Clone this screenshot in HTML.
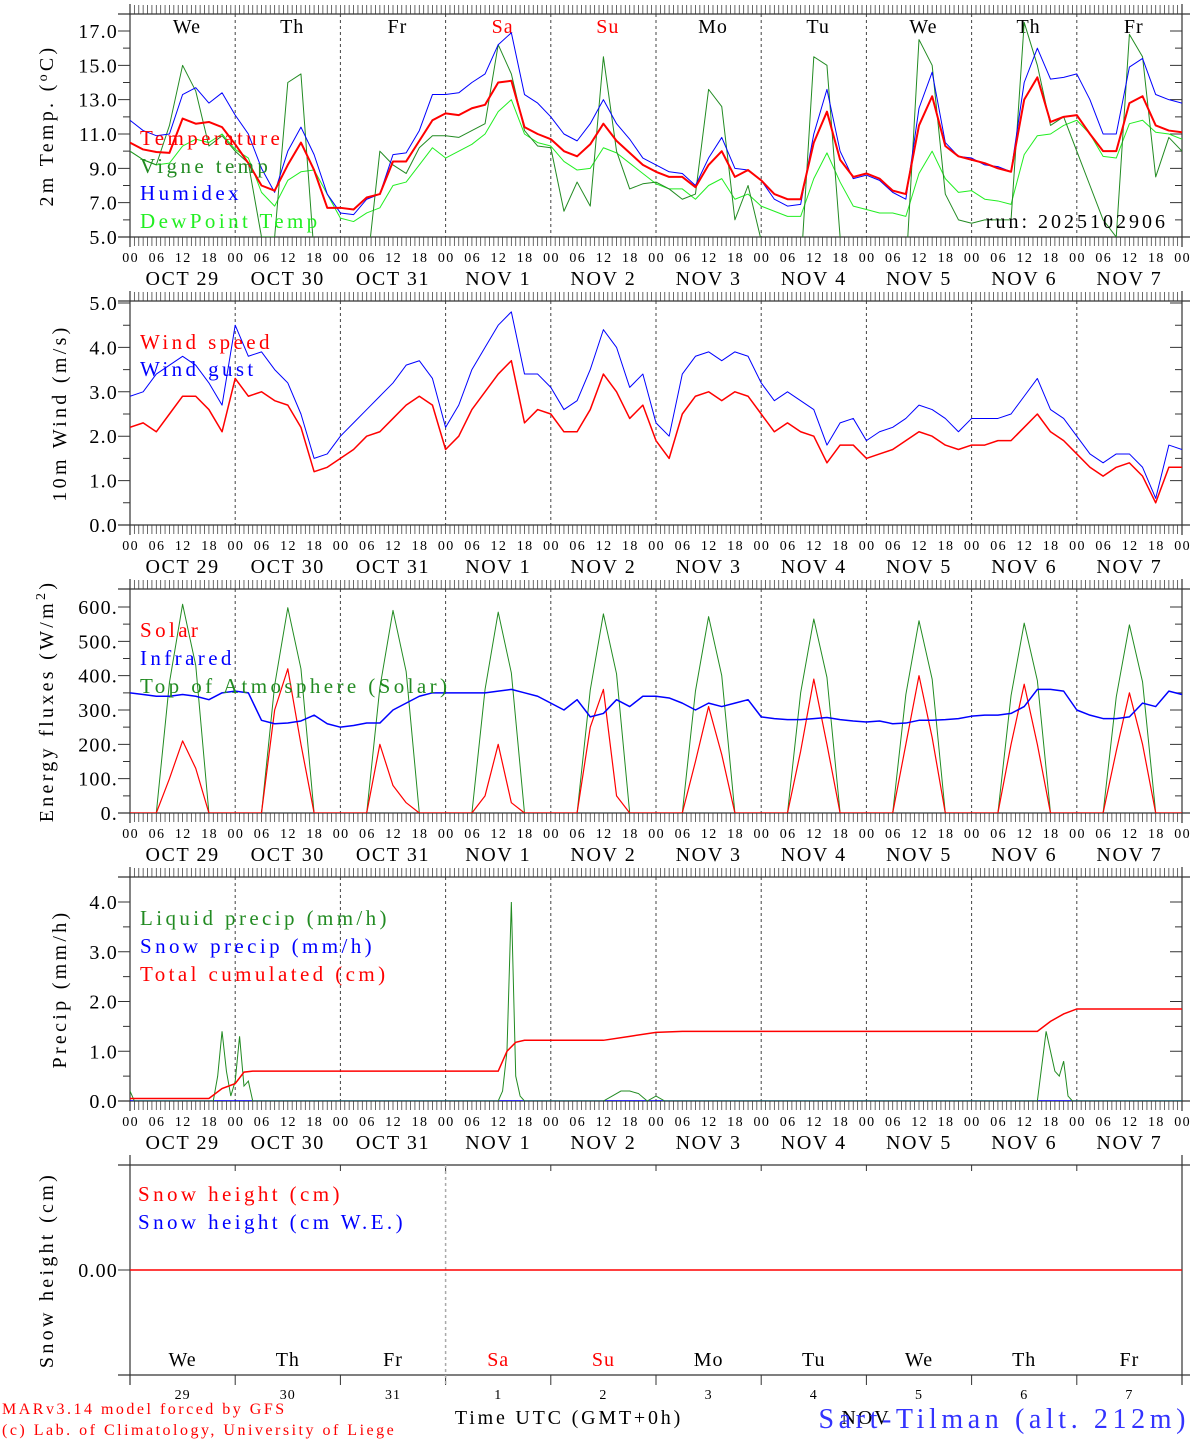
<!DOCTYPE html>
<html><head><meta charset="utf-8">
<style>
html,body{margin:0;padding:0;background:#fff;}
svg{display:block;font-family:"Liberation Serif",serif;}
</style></head>
<body>
<svg id="chart" width="1194" height="1440" viewBox="0 0 1194 1440" xmlns="http://www.w3.org/2000/svg"></svg>
<script>
const dayNames = ["We","Th","Fr","Sa","Su","Mo","Tu","We","Th","Fr"];
const dayColors = ["#000","#000","#000","#f00","#f00","#000","#000","#000","#000","#000"];
const dateLabels = ["OCT  29","OCT  30","OCT  31","NOV   1","NOV   2","NOV   3","NOV   4","NOV   5","NOV   6","NOV   7"];
const dayNumbers = ["29","30","31","1","2","3","4","5","6","7"];
const hourLabels = ["00","06","12","18"];
const temperature = [10.5,10.1,9.95,9.9,11.9,11.6,11.7,11.4, 10.4,9.3,8.0,7.7,9.2,10.5,8.9,6.7, 6.7,6.6,7.3,7.5,9.4,9.4,10.6,11.8, 12.2,12.1,12.5,12.7,14.0,14.1,11.4,11.0, 10.7,10.0,9.7,10.4,11.6,10.6,9.9,9.2, 8.8,8.5,8.5,7.9,9.2,10.0,8.5,8.9, 8.3,7.5,7.2,7.2,10.5,12.3,9.5,8.5, 8.7,8.4,7.7,7.5,11.5,13.2,10.3,9.7, 9.5,9.3,9.0,8.8,13.0,14.3,11.7,12.0, 12.1,11.0,10.0,10.0,12.8,13.2,11.5,11.2,11.1];
const humidex = [11.8,11.2,10.9,11.0,13.3,13.7,12.8,13.4, 12.1,11.0,9.0,7.6,10.0,11.4,9.8,7.5, 6.4,6.3,7.2,7.5,9.8,9.9,11.2,13.3, 13.3,13.4,14.0,14.5,16.2,16.9,13.3,12.8, 12.0,11.0,10.6,11.6,13.0,11.6,10.7,9.6, 9.2,8.8,8.7,8.0,9.6,10.8,9.0,8.9, 8.3,7.2,6.8,6.9,11.0,13.6,10.0,8.4, 8.6,8.3,7.6,7.2,12.5,14.6,10.5,9.7, 9.6,9.2,9.1,8.8,14.0,16.0,14.2,14.3, 14.5,13.0,11.0,11.0,14.9,15.4,13.3,13.0,12.8];
const dewPoint = [10.0,9.5,9.2,9.3,10.3,10.7,10.5,11.0, 10.1,9.6,7.6,6.8,8.3,8.8,8.9,7.5, 6.1,5.9,6.4,6.7,8.0,8.2,9.2,10.2, 9.6,10.0,10.4,11.0,12.3,13.0,11.0,10.5, 10.3,9.4,8.9,9.0,10.2,9.9,9.3,8.7, 8.1,7.8,7.8,7.2,8.0,8.4,7.2,7.5, 6.8,6.5,6.2,6.2,8.4,9.9,8.2,6.8, 6.6,6.4,6.4,6.2,8.7,10.0,8.4,7.6, 7.7,7.2,7.1,6.9,9.8,10.9,11.0,11.5, 11.8,11.0,9.7,9.6,11.6,11.8,11.1,11.0,10.7];
const vigneTemp = [10.0,9.5,9.2,11.5,15.0,13.5,10.3,10.9, 10.0,9.3,5.0,5.0,14.0,14.5,4.0,3.0, 2.0,2.0,3.0,10.0,9.2,8.7,10.2,10.9, 10.9,10.8,11.2,11.6,16.2,14.5,11.2,10.3, 10.2,6.5,8.2,6.8,15.5,10.0,7.8,8.1, 8.2,7.8,7.2,7.5,13.6,12.6,6.0,8.0, 4.8,3.0,3.0,3.0,15.5,15.0,5.0,3.0, 3.0,3.0,3.0,3.0,16.5,15.0,7.5,6.0, 5.8,6.0,6.0,6.0,17.5,15.0,11.5,12.0, 10.0,8.0,6.0,5.0,16.8,15.5,8.5,10.8,10.0];
const windSpeed = [2.2,2.3,2.1,2.5,2.9,2.9,2.6,2.1, 3.3,2.9,3.0,2.8,2.7,2.2,1.2,1.3, 1.5,1.7,2.0,2.1,2.4,2.7,2.9,2.7, 1.7,2.0,2.6,3.0,3.4,3.7,2.3,2.6, 2.5,2.1,2.1,2.6,3.4,3.0,2.4,2.7, 1.9,1.5,2.5,2.9,3.0,2.8,3.0,2.9, 2.5,2.1,2.3,2.1,2.0,1.4,1.8,1.8, 1.5,1.6,1.7,1.9,2.1,2.0,1.8,1.7, 1.8,1.8,1.9,1.9,2.2,2.5,2.1,1.9, 1.6,1.3,1.1,1.3,1.4,1.1,0.5,1.3,1.3];
const windGust = [2.9,3.0,3.4,3.6,3.8,3.6,3.2,2.7, 4.5,3.8,3.9,3.5,3.2,2.5,1.5,1.6, 2.0,2.3,2.6,2.9,3.2,3.6,3.7,3.3, 2.2,2.7,3.5,4.0,4.5,4.8,3.4,3.4, 3.1,2.6,2.8,3.5,4.4,4.0,3.1,3.4, 2.3,2.0,3.4,3.8,3.9,3.7,3.9,3.8, 3.2,2.8,3.0,2.8,2.6,1.8,2.3,2.4, 1.9,2.1,2.2,2.4,2.7,2.6,2.4,2.1, 2.4,2.4,2.4,2.5,2.9,3.3,2.6,2.4, 2.0,1.6,1.4,1.6,1.6,1.3,0.6,1.8,1.7];
const solar = [0,0,0,100,210,130,0,0, 0,0,0,300,420,200,0,0, 0,0,0,200,80,30,0,0, 0,0,0,50,200,30,0,0, 0,0,0,250,360,50,0,0, 0,0,0,150,310,170,0,0, 0,0,0,180,390,200,0,0, 0,0,0,200,400,220,0,0, 0,0,0,200,375,200,0,0, 0,0,0,180,350,200,0,0,0];
const infrared = [350,345,340,340,345,340,330,350, 355,350,270,260,262,268,285,260, 250,255,262,262,300,320,340,350, 350,350,350,350,355,360,350,340, 320,300,330,280,290,330,310,340, 340,335,320,300,320,310,320,330, 280,275,272,272,275,278,272,268, 265,268,260,262,270,270,272,275, 282,285,285,290,310,360,360,355, 300,285,275,275,280,320,310,355,345];
const topOfAtmosphere = [0,0,0,380,608,430,0,0, 0,0,0,372,598,420,0,0, 0,0,0,365,590,412,0,0, 0,0,0,360,585,408,0,0, 0,0,0,358,580,405,0,0, 0,0,0,355,572,400,0,0, 0,0,0,350,565,395,0,0, 0,0,0,345,560,390,0,0, 0,0,0,342,553,386,0,0, 0,0,0,338,548,382,0,0,0];
const liquidHours = [0,1,19,20,21,22,23,24,25,26,27,28,84,85,86,87,88,89,90,108,110,112,114,116,118,120,122,207,209,210,211,212,213,214,215,240];
const liquidValues = [0.2,0,0,0.5,1.4,0.6,0.1,0.4,1.3,0.3,0.4,0,0,0.2,1.0,4.0,0.5,0.1,0,0,0.1,0.2,0.2,0.15,0,0.1,0,0,1.4,1.0,0.6,0.5,0.8,0.1,0,0];
const cumHours = [0,18,21,24,26,28,84,86,88,90,108,114,120,126,207,210,213,216,240];
const cumValues = [0.05,0.05,0.25,0.35,0.58,0.6,0.6,1.0,1.18,1.22,1.22,1.3,1.38,1.4,1.4,1.6,1.75,1.85,1.85];
const snowHeight = [0,0];
const snowHours = [0,240];

const svg = document.getElementById('chart');
const NS = "http://www.w3.org/2000/svg";
const X0 = 130, X1 = 1182;
function xh(h){ return X0 + h*(X1-X0)/240; }
function mk(tag, attrs, parent){
  const e = document.createElementNS(NS, tag);
  for (const k in attrs) e.setAttribute(k, attrs[k]);
  (parent||svg).appendChild(e);
  return e;
}
function txt(s, x, y, size, fill, anchor, parent, ls){
  const t = mk('text', {x:x, y:y, 'font-size':size, fill:fill, 'text-anchor':anchor||'start', 'letter-spacing':ls||0}, parent);
  t.textContent = s;
  return t;
}
const panels = [
  {top:14, bot:237, vmin:5, vmax:17, y0:237, y1:31},
  {top:301, bot:525, vmin:0, vmax:5, y0:525, y1:303},
  {top:589, bot:813, vmin:0, vmax:600, y0:813, y1:607},
  {top:877, bot:1101, vmin:0, vmax:4, y0:1101, y1:902},
];
function yScale(p, v){
  const P = panels[p];
  return P.y0 + (v - P.vmin)*(P.y1-P.y0)/(P.vmax-P.vmin);
}
const defs = mk('defs', {});
panels.forEach((p,i)=>{
  const c = mk('clipPath', {id:'clip'+i}, defs);
  mk('rect', {x:X0, y:p.top, width:X1-X0, height:p.bot-p.top}, c);
});

function drawFrame(i, p, yticks, ylabels, minorStep, title, titleX){
  const g = mk('g', {});
  
  
  let d = '';
  for (let h=0; h<=240; h++){
    const x = xh(h);
    d += `M${x},${p.top}v-9M${x},${p.bot}v9`;
  }
  mk('path', {d:d, stroke:'#444', 'stroke-width':0.8, fill:'none'}, g);
  for (let k=1; k<10; k++){
    const x = xh(k*24);
    mk('line', {x1:x, x2:x, y1:p.top, y2:p.bot, stroke:'#444', 'stroke-width':1, 'stroke-dasharray':'3,3'}, g);
  }
  mk('line', {x1:X0-12, x2:X1+8, y1:p.top, y2:p.top, stroke:'#333', 'stroke-width':1.2}, g);
  mk('line', {x1:X0-12, x2:X1+8, y1:p.bot, y2:p.bot, stroke:'#333', 'stroke-width':1.2}, g);
  mk('line', {x1:X0, x2:X0, y1:p.top-10, y2:p.bot+10, stroke:'#333', 'stroke-width':1.2}, g);
  mk('line', {x1:X1, x2:X1, y1:p.top-10, y2:p.bot+10, stroke:'#333', 'stroke-width':1.2}, g);
  let yd = '';
  for (let v=p.vmin; v<=yticks[yticks.length-1]+1e-9; v+=minorStep){
    const y = yScale(i, v);
    if (y < p.top) continue;
    yd += `M${X0-7},${y}h7M${X1},${y}h-7`;
  }
  yticks.forEach((v,k)=>{
    const y = yScale(i, v);
    yd += `M${X0-12},${y}h12M${X1},${y}h-12`;
    const t = txt(ylabels[k], 118, y+7, 20, '#000', 'end', g, 1.2);
    
    
  });
  mk('path', {d:yd, stroke:'#333', 'stroke-width':1, fill:'none'}, g);
  for (let k=0; k<10; k++){
    for (let j=0; j<4; j++){
      const t = txt(hourLabels[j], xh(k*24+j*6)+0.7, p.bot+25, 14, '#000', 'middle', g, 1.4);
      
      
    }
    const t2 = txt(dateLabels[k], xh(k*24+12), p.bot+48, 20, '#000', 'middle', g, 1.6);
    t2.setAttribute('xml:space', 'preserve');
    
    
  }
  const t3 = txt(hourLabels[0], xh(240)+0.7, p.bot+25, 14, '#000', 'middle', g, 1.4);
  
  
  const cy = (p.top+p.bot)/2;
  const tt = mk('text', {x:titleX, y:cy, 'font-size':20, 'letter-spacing':3.3, fill:'#000', 'text-anchor':'middle', transform:`rotate(-90 ${titleX} ${cy})`}, g);
  tt.innerHTML = title;
  
  
}
function series(i, vals, color, w, name){
  let d = '';
  vals.forEach((v,k)=>{ d += (k?'L':'M') + xh(k*3).toFixed(2) + ',' + yScale(i,v).toFixed(2); });
  const e = mk('path', {d:d, stroke:color, 'stroke-width':w, fill:'none', 'clip-path':`url(#clip${i})`, 'stroke-linejoin':'round'});
  
  
}
function seriesXY(i, hrs, vals, color, w, name){
  let d = '';
  vals.forEach((v,k)=>{ d += (k?'L':'M') + xh(hrs[k]).toFixed(2) + ',' + yScale(i,v).toFixed(2); });
  const e = mk('path', {d:d, stroke:color, 'stroke-width':w, fill:'none', 'clip-path':`url(#clip${i})`});
  
  
}
function legend(s, x, y, color, name){
  const t = txt(s, x, y, 21, color, 'start', null, 3.4);
  
  
}

drawFrame(0, panels[0], [5,7,9,11,13,15,17], ["5.0","7.0","9.0","11.0","13.0","15.0","17.0"], 1, '2m Temp. (<tspan font-size="14" dy="-6">o</tspan><tspan dy="6">C)</tspan>', 53);
for (let k=0;k<10;k++){
  const t = txt(dayNames[k], xh(k*24+13), 33, 20, dayColors[k], 'middle', null, 1);
  
  
}
series(0, dewPoint, '#22ee22', 1, 'dewpoint-line');
series(0, vigneTemp, '#228b22', 1, 'vigne-temp-line');
series(0, humidex, '#0000ff', 1, 'humidex-line');
series(0, temperature, '#ff0000', 2, 'temperature-line');
legend('Temperature', 140, 145, '#ff0000', 'legend-temperature');
legend('Vigne temp', 140, 173, '#228b22', 'legend-vigne-temp');
legend('Humidex', 140, 200, '#0000ff', 'legend-humidex');
legend('DewPoint Temp', 140, 228, '#22ee22', 'legend-dewpoint');
{ const t = txt('run: 2025102906', 1168, 228, 20, '#000', 'end', null, 3);   }

drawFrame(1, panels[1], [0,1,2,3,4,5], ["0.0","1.0","2.0","3.0","4.0","5.0"], 0.5, '10m Wind (m/s)', 66);
series(1, windGust, '#0000ff', 1, 'wind-gust-line');
series(1, windSpeed, '#ff0000', 1.5, 'wind-speed-line');
legend('Wind speed', 140, 349, '#ff0000', 'legend-wind-speed');
legend('Wind gust', 140, 376, '#0000ff', 'legend-wind-gust');

drawFrame(2, panels[2], [0,100,200,300,400,500,600], ["0.","100.","200.","300.","400.","500.","600."], 50, 'Energy fluxes (W/m<tspan font-size="14" dy="-8">2</tspan><tspan dy="8">)</tspan>', 53);
series(2, topOfAtmosphere, '#228b22', 1, 'toa-solar-line');
series(2, solar, '#ff0000', 1.2, 'solar-line');
series(2, infrared, '#0000ff', 1.5, 'infrared-line');
legend('Solar', 140, 637, '#ff0000', 'legend-solar');
legend('Infrared', 140, 665, '#0000ff', 'legend-infrared');
legend('Top of Atmosphere (Solar)', 140, 693, '#228b22', 'legend-toa');

drawFrame(3, panels[3], [0,1,2,3,4], ["0.0","1.0","2.0","3.0","4.0"], 0.5, 'Precip (mm/h)', 66);
seriesXY(3, snowHours, snowHeight, '#0000ff', 1.5, 'snow-precip-line');
seriesXY(3, liquidHours, liquidValues, '#228b22', 1, 'liquid-precip-line');
seriesXY(3, cumHours, cumValues, '#ff0000', 1.5, 'total-cumulated-line');
legend('Liquid precip (mm/h)', 140, 925, '#228b22', 'legend-liquid-precip');
legend('Snow precip (mm/h)', 140, 953, '#0000ff', 'legend-snow-precip');
legend('Total cumulated (cm)', 140, 981, '#ff0000', 'legend-total-cumulated');

{
  const g = mk('g', {});
  
  
  const T=1165, B=1375;
  mk('line', {x1:X0-12, x2:X1+8, y1:T, y2:T, stroke:'#333', 'stroke-width':1.2}, g);
  mk('line', {x1:X0-12, x2:X1+8, y1:B, y2:B, stroke:'#333', 'stroke-width':1.2}, g);
  mk('line', {x1:X0, x2:X0, y1:T-10, y2:B+10, stroke:'#333', 'stroke-width':1.2}, g);
  mk('line', {x1:X1, x2:X1, y1:T-10, y2:B+10, stroke:'#333', 'stroke-width':1.2}, g);
  let d='';
  for (let k=1;k<10;k++){ const x=xh(k*24); d+=`M${x},${T}v6M${x},${B}v10`; }
  mk('path', {d:d, stroke:'#333', 'stroke-width':1, fill:'none'}, g);
  mk('line', {x1:xh(72), x2:xh(72), y1:T, y2:B+12, stroke:'#aaa', 'stroke-width':1.5, 'stroke-dasharray':'3,3'}, g);
  mk('line', {x1:X0-12, x2:X0, y1:1270, y2:1270, stroke:'#333', 'stroke-width':1}, g);
  const yl = txt('0.00', 118, 1277, 20, '#000', 'end', g, 1.2);
   
  let sd='';
  snowHeight.forEach((v,k)=>{ sd += (k?'L':'M') + xh(snowHours[k]) + ',' + (1270 - v*50); });
  const sl = mk('path', {d:sd, stroke:'#ff0000', 'stroke-width':1.5, fill:'none'}, g);
   
  for (let k=0;k<10;k++){
    const t = txt(dayNames[k], xh(k*24+12), 1366, 20, dayColors[k], 'middle', g, 1);
     
    const n = txt(dayNumbers[k], xh(k*24+12), 1399, 14, '#000', 'middle', g, 1);
     
  }
  const tt = mk('text', {x:53, y:1270, 'font-size':20, 'letter-spacing':3.3, fill:'#000', 'text-anchor':'middle', transform:'rotate(-90 53 1270)'}, g);
  tt.textContent = 'Snow height (cm)';
   
}
legend('Snow height (cm)', 138, 1201, '#ff0000', 'legend-snow-height');
legend('Snow height (cm W.E.)', 138, 1229, '#0000ff', 'legend-snow-height-we');
{ const t = txt('Time UTC (GMT+0h)', 569, 1424, 20, '#000', 'middle', null, 2.8);   }
{ const t = txt('MARv3.14 model forced by GFS', 2, 1414, 16, '#ff0000', 'start', null, 2.5);   }
{ const t = txt('(c) Lab. of Climatology, University of Liege', 2, 1435, 16, '#ff0000', 'start', null, 2.5);   }
{ const t = txt('NOV', 866, 1424, 20, '#000', 'middle', null, 2);   }
{ const t = txt('Sart-Tilman (alt. 212m)', 1190, 1428, 28, '#3333ff', 'end', null, 4.6);   }
</script>
</body></html>
